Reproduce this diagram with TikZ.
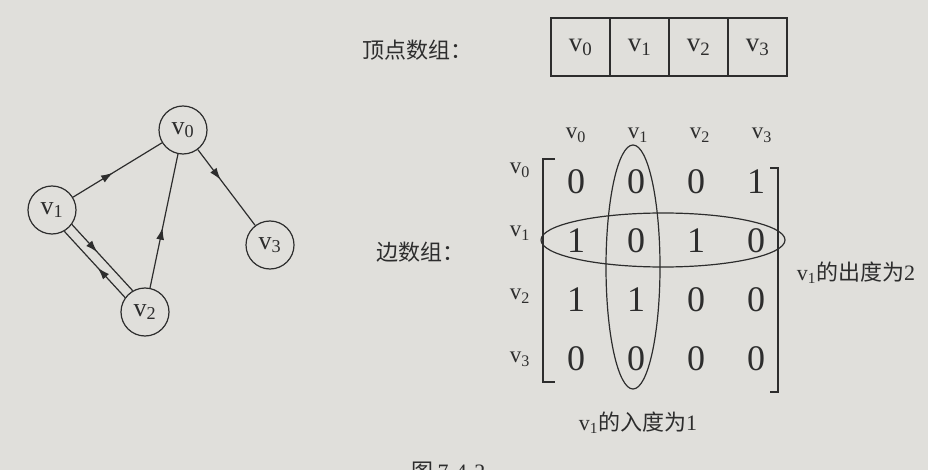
\documentclass[tikz,border=0pt]{standalone}
\usepackage{fontspec}
\setmainfont{Liberation Serif}
\newfontfamily\cjk{Noto Sans CJK SC}
\usetikzlibrary{arrows.meta,decorations.markings,positioning}
\definecolor{paper}{RGB}{224,223,219}
\definecolor{ink}{RGB}{45,45,45}
\newcommand{\vn}[1]{v\textsubscript{#1}}

\begin{document}
\begin{tikzpicture}[x=1pt,y=-1pt,line width=1.2pt,
        every node/.style={text=ink},
        vert/.style={circle,draw=ink,minimum size=48pt,inner sep=0pt,
            font=\fontsize{26}{26}\selectfont},
        edge/.style={draw=ink,postaction={decorate},
            decoration={markings,
                mark=at position #1 with {\arrow{Latex[length=12pt,width=8pt]}}}},
        edge/.default=0.45,
        cell/.style={draw=ink,minimum width=59pt,minimum height=58pt,inner sep=0pt,
            font=\fontsize{27}{27}\selectfont},
        entry/.style={font=\fontsize{36}{36}\selectfont},
        lbl/.style={font=\fontsize{23}{23}\selectfont},
        cjklbl/.style={font=\cjk\fontsize{22}{22}\selectfont}]
    \useasboundingbox[fill=paper] (0,0) rectangle (928,470);
    %% graph
    \node[vert] (v0) at (183,130) {\vn{0}};
    \node[vert] (v1) at (52,210) {\vn{1}};
    \node[vert] (v2) at (145,312) {\vn{2}};
    \node[vert] (v3) at (270,245) {\vn{3}};
    \draw[edge] (v1) -- (v0);
    \draw[edge=0.4] (v0) -- (v3);
    \draw[edge] (v2) -- (v0);
    \draw[edge=0.42] (v1.-36) -- (v2.120);
    \draw[edge=0.45] (v2.144) -- (v1.-60);
    %% vertex array
    \node[cjklbl] (vtitle) at (417,50) {顶点数组：};
    \foreach \i in {0,...,3}
        \node[cell] (a\i) at (580.5+59*\i,47) {\vn{\i}};
    %% edge array
    \node[cjklbl] (etitle) at (420,252) {边数组：};
    \foreach \j in {0,...,3} {
        \node[lbl] (c\j) at (576+62*\j,135) {\vn{\j}};
        \node[lbl] (r\j) at (520,170+63*\j) {\vn{\j}};
    }
    \foreach \row [count=\i from 0] in {{0,0,0,1},{1,0,1,0},{1,1,0,0},{0,0,0,0}} {
        \foreach \e [count=\j from 0] in \row
            \node[entry] (m\i\j) at (576+60*\j,182+59*\i) {\e};
    }
    \draw[ink] (555,159) -- (543,159) -- (543,382) -- (555,382);
    \draw[ink] (770,168) -- (778,168) -- (778,392) -- (770,392);
    \draw[ink] (663,240) ellipse [x radius=122pt,y radius=27pt];
    \draw[ink] (633,267) ellipse [x radius=27pt,y radius=122pt];
    \node[cjklbl,anchor=west] (outdeg) at (793,273) {{\rmfamily\vn{1}}的出度为{\rmfamily 2}};
    \node[cjklbl] (indeg) at (638,423) {{\rmfamily\vn{1}}的入度为{\rmfamily 1}};
    \begin{scope}
        \clip (0,0) rectangle (928,470);
        \node[cjklbl,anchor=north west] (fig) at (408,458) {图{\rmfamily\,7-4-2}};
    \end{scope}
\end{tikzpicture}
\end{document}
